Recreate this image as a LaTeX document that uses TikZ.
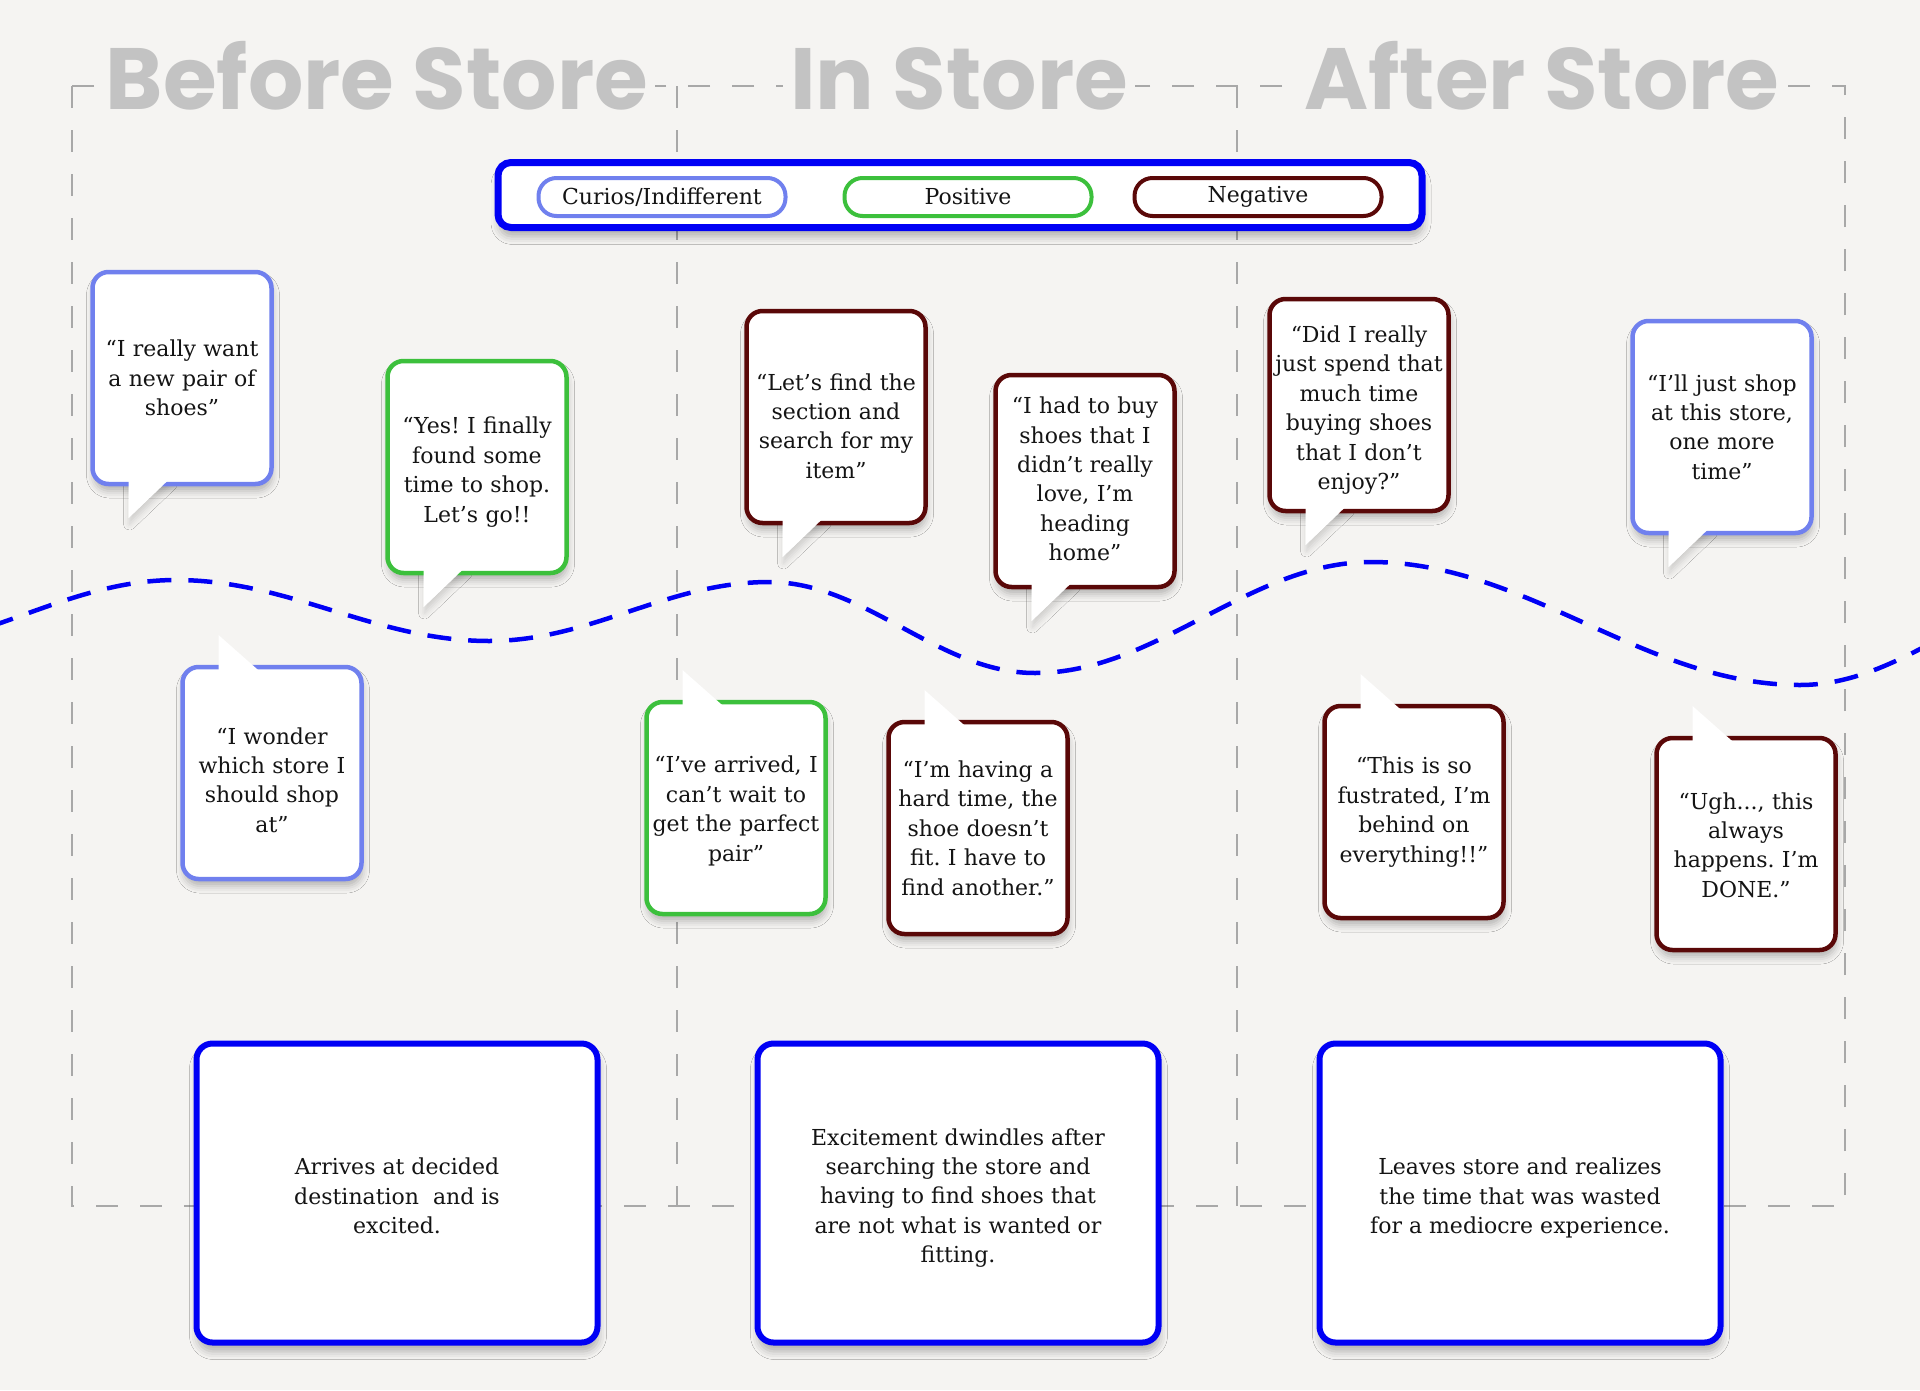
\documentclass[tikz,border=0pt]{standalone}
\usepackage{fontspec}
\usetikzlibrary{shadows.blur}
\newfontfamily\bubfont{DejaVu Serif}
\newfontfamily\titlefont{Poppins}
\frenchspacing
\definecolor{bg}{HTML}{F5F4F2}
\definecolor{curblue}{HTML}{7080EE}
\definecolor{posgreen}{HTML}{3CC03C}
\definecolor{negred}{HTML}{5A0808}
\definecolor{strongblue}{HTML}{0000F5}
\definecolor{titlegray}{HTML}{C3C3C3}
\definecolor{dashgray}{HTML}{A8A8A8}
% #1 name, #2 style, #3 cx, #4 cy, #5 text, #6 text shift
\newcommand{\bubbot}[6]{%
  \fill[white, tailshadow] (#3-53.5,#4+100) -- (#3-53.5,#4+140) -- (#3-11.5,#4+100) -- cycle;
  \node[#2] (#1) at (#3,#4) {};
  \fill[white] (#3-53.5,#4+100) -- (#3-53.5,#4+140) -- (#3-11.5,#4+100) -- cycle;
  \node[bubtext] (#1t) at (#3,#4+#6) {#5};
}
\newcommand{\bubtop}[6]{%
  \node[#2] (#1) at (#3,#4) {};
  \fill[white] (#3-53.5,#4-100) -- (#3-53.5,#4-138) -- (#3-10.5,#4-100) -- cycle;
  \node[bubtext] (#1t) at (#3,#4+#6) {#5};
}
\begin{document}
\begin{tikzpicture}[x=1pt,y=-1pt,
  gdash/.style={draw=dashgray, line width=2pt, dash pattern=on 22pt off 22pt},
  wave/.style={draw=strongblue, line width=4.5pt, dash pattern=on 24pt off 17pt},
  softshadow/.style={blur shadow={shadow xshift=1pt, shadow yshift=-7pt, shadow blur radius=7pt, shadow opacity=26}},
  tailshadow/.style={blur shadow={shadow xshift=1pt, shadow yshift=-6pt, shadow blur radius=6pt, shadow opacity=16}},
  bigshadow/.style={blur shadow={shadow xshift=1pt, shadow yshift=-9pt, shadow blur radius=8pt, shadow opacity=28}},
  bubble/.style={draw, fill=white, line width=4.5pt, rounded corners=16pt,
    minimum width=179pt, minimum height=212pt,
    inner sep=0pt, outer sep=0pt, softshadow},
  bubtext/.style={text width=176pt, align=center, inner sep=0pt,
    font=\bubfont\fontsize{22}{29.4}\selectfont, text=black!92},
  curbub/.style={bubble, draw=curblue},
  posbub/.style={bubble, draw=posgreen},
  negbub/.style={bubble, draw=negred},
  stagebox/.style={draw=strongblue, fill=white, line width=6pt, rounded corners=16pt,
    minimum width=401pt, minimum height=299pt, inner sep=0pt, outer sep=0pt, bigshadow},
  stagetext/.style={align=center, inner sep=0pt,
    font=\bubfont\fontsize{22}{29.4}\selectfont, text=black!92},
  legendbox/.style={draw=strongblue, fill=white, line width=7pt, rounded corners=13pt,
    minimum width=924pt, minimum height=65pt, inner sep=0pt, bigshadow},
  pill/.style={draw, fill=white, line width=4pt, rounded corners=18pt,
    minimum width=247pt, minimum height=38pt, inner sep=0pt,
    font=\bubfont\fontsize{22}{26}\selectfont, text=black!92},
  titlelbl/.style={fill=bg, inner xsep=7pt, inner ysep=3pt, text=titlegray, anchor=base,
    font=\titlefont\bfseries\fontsize{87}{87}\selectfont}
]
\useasboundingbox (0,0) rectangle (1920,1390);
\fill[bg] (0,0) rectangle (1920,1390);

% frame and dividers
\draw[gdash] (72,86) rectangle (1845,1206);
\draw[gdash] (677,86) -- (677,1206);
\draw[gdash] (1237,86) -- (1237,1206);

% titles
\node[titlelbl] (tBefore) at (377,109) {Before Store};
\node[titlelbl] (tIn) at (959,109) {In Store};
\node[titlelbl] (tAfter) at (1542,109) {After Store};

% wave
\begin{scope}
\clip (0,0) rectangle (1920,1390);
\draw[wave] (-130,650) .. controls (-19,650) and (65,580) .. (176,580)
  .. controls (290,580) and (375,641) .. (489,641)
  .. controls (591,641) and (667,582) .. (769,582)
  .. controls (866,582) and (938,673) .. (1035,673)
  .. controls (1157,673) and (1249,562) .. (1371,562)
  .. controls (1527,562) and (1644,685) .. (1800,685)
  .. controls (1909,685) and (1991,581) .. (2100,581);
\end{scope}

% legend
\node[legendbox] (legend) at (960,195) {};
\node[pill, draw=curblue] (lcur) at (662,197) {Curios/Indifferent};
\node[pill, draw=posgreen] (lpos) at (968,197) {Positive};
\node[pill, draw=negred] (lneg) at (1258,197) {Negative};

% bubbles
\bubbot{b1}{curbub}{182}{378}{“I really want\\a new pair of\\shoes”}{0}
\bubbot{b2}{posbub}{477}{467}{“Yes! I finally\\found some\\time to shop.\\Let’s go!!}{5}
\bubtop{b3}{curbub}{272}{773}{“I wonder\\which store I\\should shop\\at”}{7}
\bubbot{b4}{negbub}{836}{417}{“Let’s find the\\section and\\search for my\\item”}{9}
\bubtop{b5}{posbub}{736}{808}{“I’ve arrived, I\\can’t wait to\\get the parfect\\pair”}{3}
\bubbot{b6}{negbub}{1085}{481}{“I had to buy\\shoes that I\\didn’t really\\love, I’m\\heading\\home”}{-2}
\bubtop{b7}{negbub}{978}{828}{“I’m having a\\hard time, the\\shoe doesn’t\\fit. I have to\\find another.”}{0}
\bubbot{b8}{negbub}{1359}{405}{“Did I really\\just spend that\\much time\\buying shoes\\that I don’t\\enjoy?”}{5}
\bubtop{b9}{negbub}{1414}{812}{“This is so\\fustrated, I’m\\behind on\\everything!!”}{0}
\bubbot{b10}{curbub}{1722}{427}{“I’ll just shop\\at this store,\\one more\\time”}{0}
\bubtop{b11}{negbub}{1746}{844}{“Ugh..., this\\always\\happens. I’m\\DONE.”}{1}

% stage boxes
\node[stagebox] (sA) at (397,1193) {};
\node[stagetext] (sAt) at (397,1196) {Arrives at decided\\destination~ and is\\excited.};
\node[stagebox] (sB) at (958,1193) {};
\node[stagetext] (sBt) at (958,1198) {Excitement dwindles after\\searching the store and\\having to find shoes that\\are not what is wanted or\\fitting.};
\node[stagebox] (sC) at (1520,1193) {};
\node[stagetext] (sCt) at (1520,1198) {Leaves store and realizes\\the time that was wasted\\for a mediocre experience.};
\end{tikzpicture}
\end{document}
